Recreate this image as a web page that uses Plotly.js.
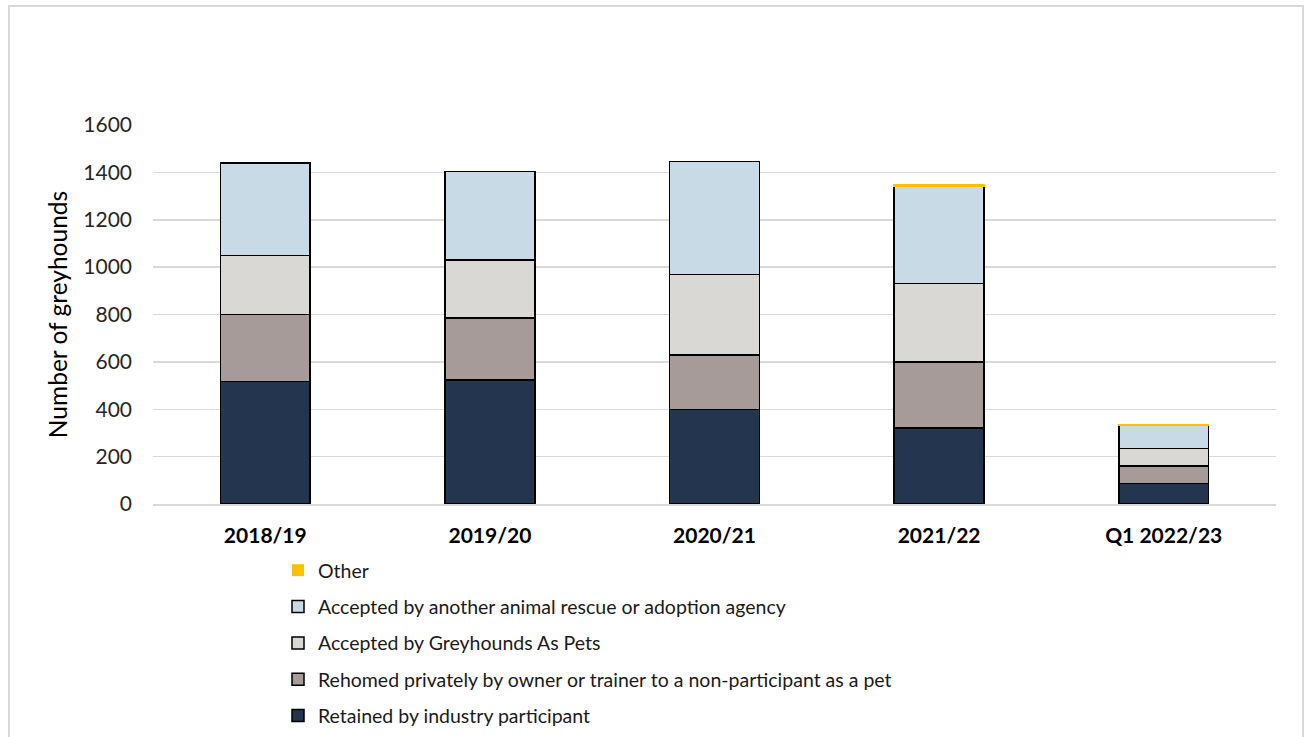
<!DOCTYPE html>
<html>
<head>
<meta charset="utf-8">
<script src="https://cdn.plot.ly/plotly-3.0.1.min.js"></script>
<style>
  html, body { margin: 0; padding: 0; background: #fff; overflow: hidden; }
  #wrap { position: relative; width: 1309px; height: 737px; }
  #chart { position: absolute; left: 0; top: 0; width: 1309px; height: 737px; }
  #frame { position: absolute; left: 8px; top: 5px; width: 1296px; height: 760px;
           border: 2px solid #d9d9d9; box-sizing: border-box; pointer-events: none; }
</style>
</head>
<body>
<div id="wrap">
  <div id="chart"></div>
  <div id="frame"></div>
</div>
<script>
// ---- data ----
const categories = ["2018/19", "2019/20", "2020/21", "2021/22", "Q1 2022/23"];
const retained   = [517, 524, 400, 320, 87];
const rehomed    = [283, 261, 230, 280, 74];
const gapPets    = [249, 246, 338, 331, 73];
const otherAgency= [391, 373, 478, 412, 98];
const other      = [0, 0, 0, 5, 4];

const seriesNames = [
  "Retained by industry participant",
  "Rehomed privately by owner or trainer to a non-participant as a pet",
  "Accepted by Greyhounds As Pets",
  "Accepted by another animal rescue or adoption agency",
  "Other"
];
const seriesValues = [retained, rehomed, gapPets, otherAgency, other];
const seriesColors = ["#24364f", "#a69b98", "#d9d8d5", "#c8dae6", "#ffc000"];

const FONT = "Lato, 'Open Sans', sans-serif";

const traces = seriesNames.map((name, i) => ({
  type: "bar",
  name: name,
  x: categories,
  y: seriesValues[i],
  legendgroup: "g" + i,
  legendrank: 1000 - i,
  marker: {
    color: seriesColors[i],
    line: i === 4
      ? {color: "#ffc000", width: other.map(v => (v > 0 ? 1.5 : 0))}
      : {color: "#000000", width: 1.5}
  },
  hoverinfo: "x+y+name"
}));

const layout = {
  width: 1309,
  height: 737,
  margin: {l: 153, r: 33, t: 125, b: 233, pad: 0, autoexpand: false},
  paper_bgcolor: "#ffffff",
  plot_bgcolor: "#ffffff",
  barmode: "stack",
  bargap: 0.6,
  showlegend: true,
  font: {family: FONT, color: "#1a1a1a", size: 18},
  xaxis: {
    type: "category",
    showgrid: false,
    showline: true,
    linecolor: "#d9d9d9",
    linewidth: 1.5,
    ticks: "",
    ticklabelstandoff: 12,
    tickfont: {family: FONT, size: 21, color: "#000000", weight: "bold"},
    zeroline: false
  },
  yaxis: {
    range: [0, 1600],
    dtick: 200,
    showgrid: true,
    gridcolor: "#d9d9d9",
    gridwidth: 1.5,
    zeroline: false,
    showline: false,
    ticks: "",
    ticklabelstandoff: 20,
    tickfont: {family: FONT, size: 21, color: "#262626"},
    title: {text: "Number of greyhounds", font: {family: FONT, size: 24.5, color: "#000000"}, standoff: 8}
  },
  legend: {
    orientation: "v",
    traceorder: "grouped",
    tracegroupgap: 8,
    x: (278 - 153) / 1123,
    xanchor: "left",
    y: (504 - 551) / 379,
    yanchor: "top",
    font: {family: FONT, size: 19.5, color: "#1a1a1a"},
    bgcolor: "rgba(0,0,0,0)",
    borderwidth: 0
  }
};

Plotly.newPlot("chart", traces, layout, {displayModeBar: false, staticPlot: true});
</script>
</body>
</html>
